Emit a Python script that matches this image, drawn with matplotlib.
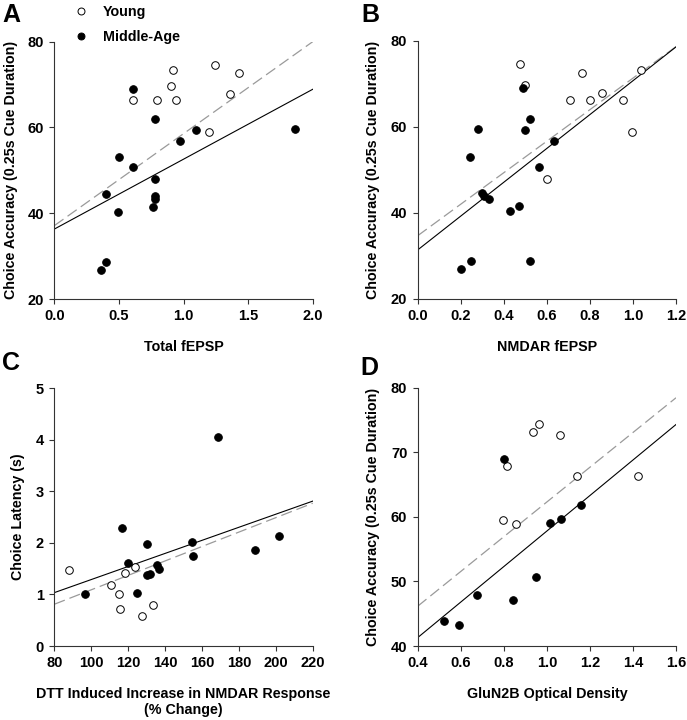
import matplotlib
matplotlib.use("Agg")
import matplotlib.pyplot as plt
from matplotlib.lines import Line2D
import numpy as np

plt.rcParams['font.family'] = ['Liberation Sans', 'DejaVu Sans']
plt.rcParams['font.weight'] = 'bold'

# ---------------- data ----------------
# Panel A: Total fEPSP vs choice accuracy
a_young_x = [0.61, 0.795, 0.90, 0.92, 0.94, 1.24, 1.43, 1.36, 1.20]
a_young_y = [66.3, 66.3, 69.7, 73.3, 66.3, 74.6, 72.7, 67.8, 59.0]
a_mid_x = [0.61, 0.78, 1.10, 0.97, 0.50, 0.61, 0.78, 0.78, 0.78, 0.765, 0.40, 0.49, 0.40, 0.365, 1.865]
a_mid_y = [69.0, 61.9, 59.3, 56.8, 53.0, 50.8, 47.9, 44.0, 43.3, 41.5, 44.5, 40.4, 28.6, 26.8, 59.6]
a_dash = [37.1, 21.45]   # intercept, slope
a_solid = [36.3, 16.3]

# Panel B: NMDAR fEPSP vs choice accuracy
b_young_x = [0.474, 0.50, 0.708, 0.765, 0.80, 0.856, 0.955, 0.997, 1.039, 0.60]
b_young_y = [74.5, 69.6, 66.3, 72.6, 66.3, 67.8, 66.3, 58.9, 73.2, 47.9]
b_mid_x = [0.491, 0.282, 0.242, 0.523, 0.499, 0.632, 0.565, 0.299, 0.31, 0.333, 0.43, 0.472, 0.20, 0.249, 0.52]
b_mid_y = [69.0, 59.6, 52.9, 61.8, 59.2, 56.7, 50.7, 44.6, 44.0, 43.3, 40.5, 41.6, 26.9, 28.8, 28.8]
b_dash = [34.7, 36.6]
b_solid = [31.4, 39.3]

# Panel C: DTT-induced increase vs choice latency
c_young_x = [87.8, 110.7, 115.0, 115.4, 118.3, 123.7, 127.3, 133.6]
c_young_y = [1.48, 1.18, 1.00, 0.71, 1.42, 1.53, 0.58, 0.80]
c_mid_x = [96.8, 116.7, 119.9, 124.6, 130.4, 130.2, 132.0, 135.8, 136.5, 154.8, 155.0, 168.9, 188.7, 201.7]
c_mid_y = [1.01, 2.29, 1.62, 1.03, 1.98, 1.38, 1.40, 1.57, 1.49, 2.01, 1.75, 4.06, 1.86, 2.13]
c_dash = [-0.31, 0.0140]
c_solid = [0.021, 0.01268]

# Panel D: GluN2B optical density vs choice accuracy
d_young_x = [0.934, 0.962, 1.063, 0.817, 1.142, 1.422, 0.796, 0.855]
d_young_y = [73.1, 74.4, 72.6, 67.8, 66.3, 66.4, 59.5, 58.9]
d_mid_x = [0.803, 1.157, 1.064, 1.015, 0.950, 0.674, 0.844, 0.521, 0.594]
d_mid_y = [69.0, 61.8, 59.6, 59.1, 50.7, 47.9, 47.1, 43.9, 43.3]
d_dash = [35.4, 26.9]
d_solid = [30.3, 27.5]

W, H = 687, 720
fig = plt.figure(figsize=(W / 100, H / 100), dpi=100)


def make_ax(l, r, t, b):
    return fig.add_axes([l / W, 1 - b / H, (r - l) / W, (b - t) / H])


def style(ax, xlim, ylim, xticks, yticks, xfmt, xlabel, ylabel, xlabelpad, ylabelpad):
    ax.set_xlim(*xlim)
    ax.set_ylim(*ylim)
    ax.set_xticks(xticks)
    ax.set_yticks(yticks)
    ax.set_xticklabels([xfmt.format(v) for v in xticks])
    ax.set_yticklabels([str(v) for v in yticks])
    for s in ['top', 'right']:
        ax.spines[s].set_visible(False)
    for s in ['left', 'bottom']:
        ax.spines[s].set_linewidth(0.8)
        ax.spines[s].set_color('#333333')
    ax.tick_params(direction='out', length=3.5, width=0.8, color='#333333', labelsize=10.5, pad=4)
    for lab in ax.get_xticklabels() + ax.get_yticklabels():
        lab.set_fontweight('bold')
    ax.set_xlabel(xlabel, fontsize=10.3, fontweight='bold', labelpad=xlabelpad)
    ax.set_ylabel(ylabel, fontsize=10.3, fontweight='bold', labelpad=ylabelpad)


def draw(ax, yx, yy, mx, my, dash, solid, xlim):
    xs = np.array(xlim, dtype=float)
    ax.plot(xs, dash[0] + dash[1] * xs, color='#9a9a9a', lw=0.9, dashes=(9, 4), zorder=2)
    ax.plot(xs, solid[0] + solid[1] * xs, color='black', lw=0.8, zorder=2)
    ax.scatter(yx, yy, s=30, facecolors='white', edgecolors='black', linewidths=0.7, zorder=3, clip_on=False)
    ax.scatter(mx, my, s=30, facecolors='black', edgecolors='black', linewidths=0.7, zorder=4, clip_on=False)


ylab = 'Choice Accuracy (0.25s Cue Duration)'

axA = make_ax(54.3, 312.7, 41.7, 299)
draw(axA, a_young_x, a_young_y, a_mid_x, a_mid_y, a_dash, a_solid, (0, 2))
style(axA, (0, 2), (20, 80), [0.0, 0.5, 1.0, 1.5, 2.0], [20, 40, 60, 80], '{:.1f}', 'Total fEPSP', ylab, 12, 7)

axB = make_ax(417.7, 676, 40.7, 299)
draw(axB, b_young_x, b_young_y, b_mid_x, b_mid_y, b_dash, b_solid, (0, 1.2))
style(axB, (0, 1.2), (20, 80), [0.0, 0.2, 0.4, 0.6, 0.8, 1.0, 1.2], [20, 40, 60, 80], '{:.1f}', 'NMDAR fEPSP', ylab, 12, 8)

axC = make_ax(54.3, 312.7, 388.3, 646)
draw(axC, c_young_x, c_young_y, c_mid_x, c_mid_y, c_dash, c_solid, (80, 220))
style(axC, (80, 220), (0, 5), list(range(80, 221, 20)), [0, 1, 2, 3, 4, 5], '{:d}',
      'DTT Induced Increase in NMDAR Response\n(% Change)', 'Choice Latency (s)', 12, 8)

axD = make_ax(417.7, 676, 387.7, 646)
draw(axD, d_young_x, d_young_y, d_mid_x, d_mid_y, d_dash, d_solid, (0.4, 1.6))
style(axD, (0.4, 1.6), (40, 80), [0.4, 0.6, 0.8, 1.0, 1.2, 1.4, 1.6], [40, 50, 60, 70, 80], '{:.1f}',
      'GluN2B Optical Density', ylab, 12, 8)

# panel letters
for txt, x, y in [('A', 2, 3), ('B', 361, 3), ('C', 2, 351), ('D', 360, 356)]:
    fig.text(x / W, 1 - y / H, txt, fontsize=18, fontweight='bold', va='top', ha='left')

# legend
handles = [Line2D([], [], ls='none', marker='o', ms=5, mfc='white', mec='black', mew=0.7),
           Line2D([], [], ls='none', marker='o', ms=5, mfc='black', mec='black', mew=0.7)]
fig.legend(handles, ['Young', 'Middle-Age'], loc='upper left', bbox_to_anchor=(54 / W, 1 - (-8) / H),
           frameon=False, handletextpad=0.5, labelspacing=0.75, prop={'weight': 'bold', 'size': 10.3})

fig.savefig('out.png', dpi=100)
